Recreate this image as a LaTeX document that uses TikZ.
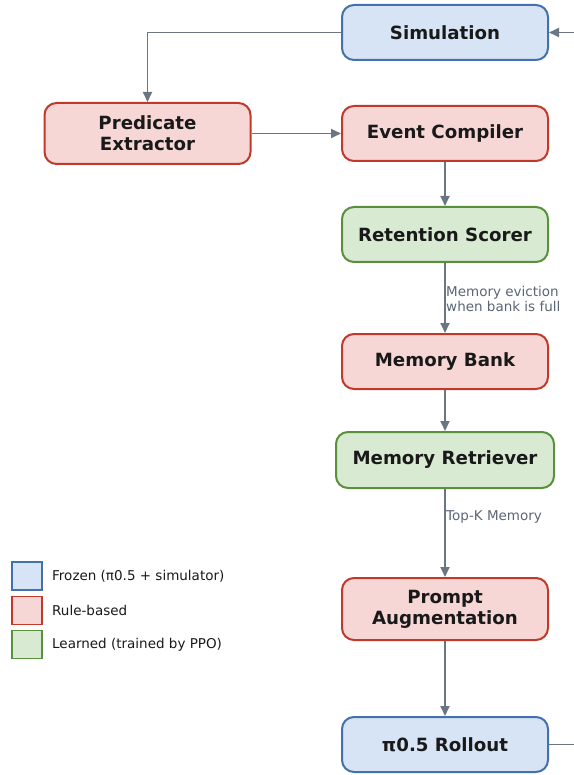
\documentclass[tikz,border=0pt]{standalone}
\usepackage{fontspec}
\setmainfont{DejaVu Sans}
\usetikzlibrary{arrows.meta}

\definecolor{frozenfill}{HTML}{D6E4F5}
\definecolor{frozenline}{HTML}{4471AB}
\definecolor{rulefill}{HTML}{F6D7D6}
\definecolor{ruleline}{HTML}{C0392B}
\definecolor{learnfill}{HTML}{D9EAD3}
\definecolor{learnline}{HTML}{5A8F3C}
\definecolor{flowline}{HTML}{6B7683}
\definecolor{notetext}{HTML}{5A6676}

\begin{document}
\begin{tikzpicture}[x=1pt, y=-1pt,
    block/.style={draw, rectangle, rounded corners=12pt, line width=2pt, align=center,
        minimum width=206pt, minimum height=55pt, text=black!90,
        font=\fontsize{18.2}{21}\selectfont\bfseries},
    frozen/.style={block, fill=frozenfill, draw=frozenline},
    rulebased/.style={block, fill=rulefill, draw=ruleline},
    learned/.style={block, fill=learnfill, draw=learnline},
    flow/.style={draw=flowline, line width=1.8pt, -{Triangle[length=10pt, width=9pt]}},
    note/.style={text=notetext, align=left, anchor=west, inner sep=0pt,
        font=\fontsize{13.5}{15}\selectfont},
    keybox/.style={draw, line width=1.2pt, minimum width=30pt, minimum height=28pt, inner sep=0pt},
    keytext/.style={anchor=west, inner sep=0pt, text=black!90, font=\fontsize{13.5}{16}\selectfont}]
        \useasboundingbox (0,0) rectangle (573,775);

        % Draw boxes
        \node[frozen] (sim) at (445,32.5) {Simulation};
        \node[rulebased, minimum height=61pt] (pred) at (147.5,133.5) {Predicate\\Extractor};
        \node[rulebased] (events) at (445,133.5) {Event Compiler};
        \node[learned] (scorer) at (445,234.5) {Retention Scorer};
        \node[rulebased] (bank) at (445,361.5) {Memory Bank};
        \node[learned, minimum width=218pt, minimum height=56pt] (retriever) at (445,460) {Memory Retriever};
        \node[rulebased, minimum height=62pt] (prompt) at (445,609) {Prompt\\Augmentation};
        \node[frozen] (rollout) at (445,744.5) {π0.5 Rollout};

        % Draw arrows
        \draw[flow] (sim.west) -| (pred.north);
        \draw[flow] (pred.east) -- (events.west);
        \draw[flow] (events.south) -- (scorer.north);
        \draw[flow] (scorer.south) -- (bank.north);
        \draw[flow] (bank.south) -- (retriever.north);
        \draw[flow] (retriever.south) -- (prompt.north);
        \draw[flow] (prompt.south) -- (rollout.north);
        \coordinate (loop) at (590,744.5);
        \draw[flow] (rollout.east) -- (loop) |- (sim.east);

        % Arrow labels
        \node[note] (evict) at (446,298.5) {Memory eviction\\when bank is full};
        \node[note] (topk) at (446,517) {Top-K Memory};

        % Legend
        \node[keybox, fill=frozenfill, draw=frozenline] (key1) at (27,576) {};
        \node[keybox, fill=rulefill, draw=ruleline] (key2) at (27,610.5) {};
        \node[keybox, fill=learnfill, draw=learnline] (key3) at (27,644.5) {};
        \node[keytext] at (52,576) {Frozen (π0.5 + simulator)};
        \node[keytext] at (52,610.5) {Rule-based};
        \node[keytext] at (52,644.5) {Learned (trained by PPO)};
\end{tikzpicture}
\end{document}
